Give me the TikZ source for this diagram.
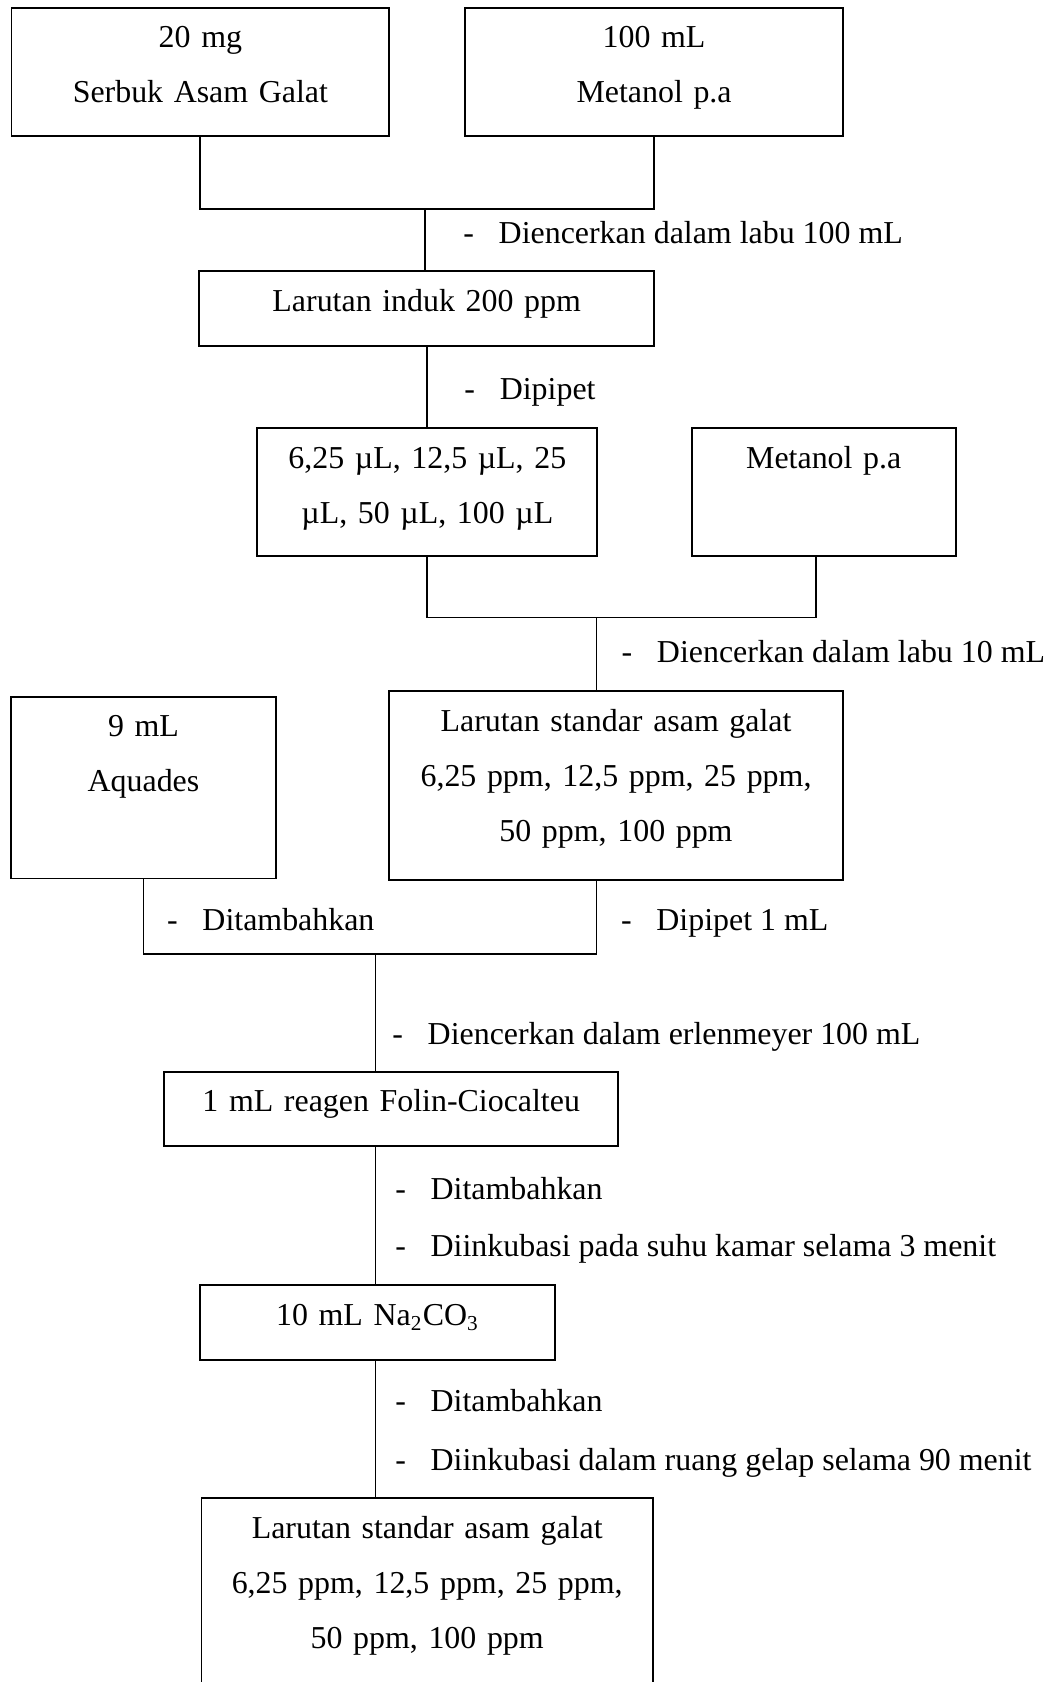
\documentclass[tikz,border=0pt]{standalone}
\usepackage{fontspec}
\setmainfont{Liberation Serif}
\usetikzlibrary{calc}
\tikzset{
	kotak/.style={
		rectangle,
		draw=black,
		inner sep=0pt,
		anchor=north west,
		align=center,
		text height=15.1pt,
		font=\fontsize{12}{20.7}\selectfont
	},
	ket/.style={
		anchor=base west,
		inner sep=0pt,
		font=\fontsize{12}{20.7}\selectfont
	}
}
\newcommand{\langkah}[1]{\makebox[13.3pt][l]{-}#1}

\begin{document}
\begin{tikzpicture}[x=1pt, y=-1pt, line width=0.7pt]
	\path[use as bounding box, clip] (0,0) rectangle (393.7,632.5);

	\node[kotak, text width=142.0pt, text depth=33.3pt] (serbuk) at (4.0,2.5) {20 mg\\Serbuk Asam Galat};
	\node[kotak, text width=142.2pt, text depth=33.3pt] (metanol) at (174.5,2.5) {100 mL\\Metanol p.a};
	\node[kotak, text width=171.0pt, text depth=13.1pt] (induk) at (74.6,101.7) {Larutan induk 200 ppm};
	\node[kotak, text width=127.9pt, text depth=32.9pt] (pipet) at (96.4,160.6) {6,25 µL, 12,5 µL, 25\\µL, 50 µL, 100 µL};
	\node[kotak, text width=99.2pt, text depth=32.9pt] (metanol2) at (259.8,160.6) {Metanol p.a};
	\node[kotak, text width=99.6pt, text depth=53.3pt] (aquades) at (3.8,261.6) {9 mL\\Aquades};
	\node[kotak, text width=170.6pt, text depth=55.8pt] (standar) at (146.0,259.5) {Larutan standar asam galat\\6,25 ppm, 12,5 ppm, 25 ppm,\\50 ppm, 100 ppm};
	\node[kotak, text width=170.9pt, text depth=12.9pt] (folin) at (61.3,402.6) {1 mL reagen Folin-Ciocalteu};
	\node[kotak, text width=133.3pt, text depth=13.1pt] (na) at (75.0,482.9) {10 mL Na\textsubscript{2}CO\textsubscript{3}};
	\node[kotak, text width=169.8pt, text depth=59.9pt] (hasil) at (75.4,563.1) {Larutan standar asam galat\\6,25 ppm, 12,5 ppm, 25 ppm,\\50 ppm, 100 ppm};

	% titik pertemuan garis
	\coordinate (t1) at (159.7,78.5);
	\coordinate (t2) at (224.3,232.2);
	\coordinate (t3) at (141.2,358.6);

	\draw (serbuk.south) |- (t1) -| (metanol.south);
	\draw (t1) -- (t1 |- induk.north);
	\draw (induk.south) -- (induk.south |- pipet.north);
	\draw (pipet.south) |- (t2) -| ([xshift=-2.8pt]metanol2.south);
	\draw (t2) -- (t2 |- standar.north);
	\draw (aquades.south) |- (t3) -| (t2 |- standar.south);
	\draw (t3) -- (t3 |- folin.north);
	\draw (t3 |- folin.south) -- (t3 |- na.north);
	\draw (t3 |- na.south) -- (t3 |- hasil.north);

	\node[ket] (k1) at (173.9,91.5) {\langkah{Diencerkan dalam labu 100 mL}};
	\node[ket] (k2) at (174.3,150.1) {\langkah{Dipipet}};
	\node[ket] (k3) at (233.4,249.3) {\langkah{Diencerkan dalam labu 10 mL}};
	\node[ket] (k4) at (62.5,349.9) {\langkah{Ditambahkan}};
	\node[ket] (k5) at (233.2,349.9) {\langkah{Dipipet 1 mL}};
	\node[ket] (k6) at (147.2,392.9) {\langkah{Diencerkan dalam erlenmeyer 100 mL}};
	\node[ket] (k7) at (148.3,451.0) {\langkah{Ditambahkan}};
	\node[ket] (k8) at (148.3,472.4) {\langkah{Diinkubasi pada suhu kamar selama 3 menit}};
	\node[ket] (k9) at (148.3,530.9) {\langkah{Ditambahkan}};
	\node[ket] (k10) at (148.3,553.1) {\langkah{Diinkubasi dalam ruang gelap selama 90 menit}};
\end{tikzpicture}
\end{document}
